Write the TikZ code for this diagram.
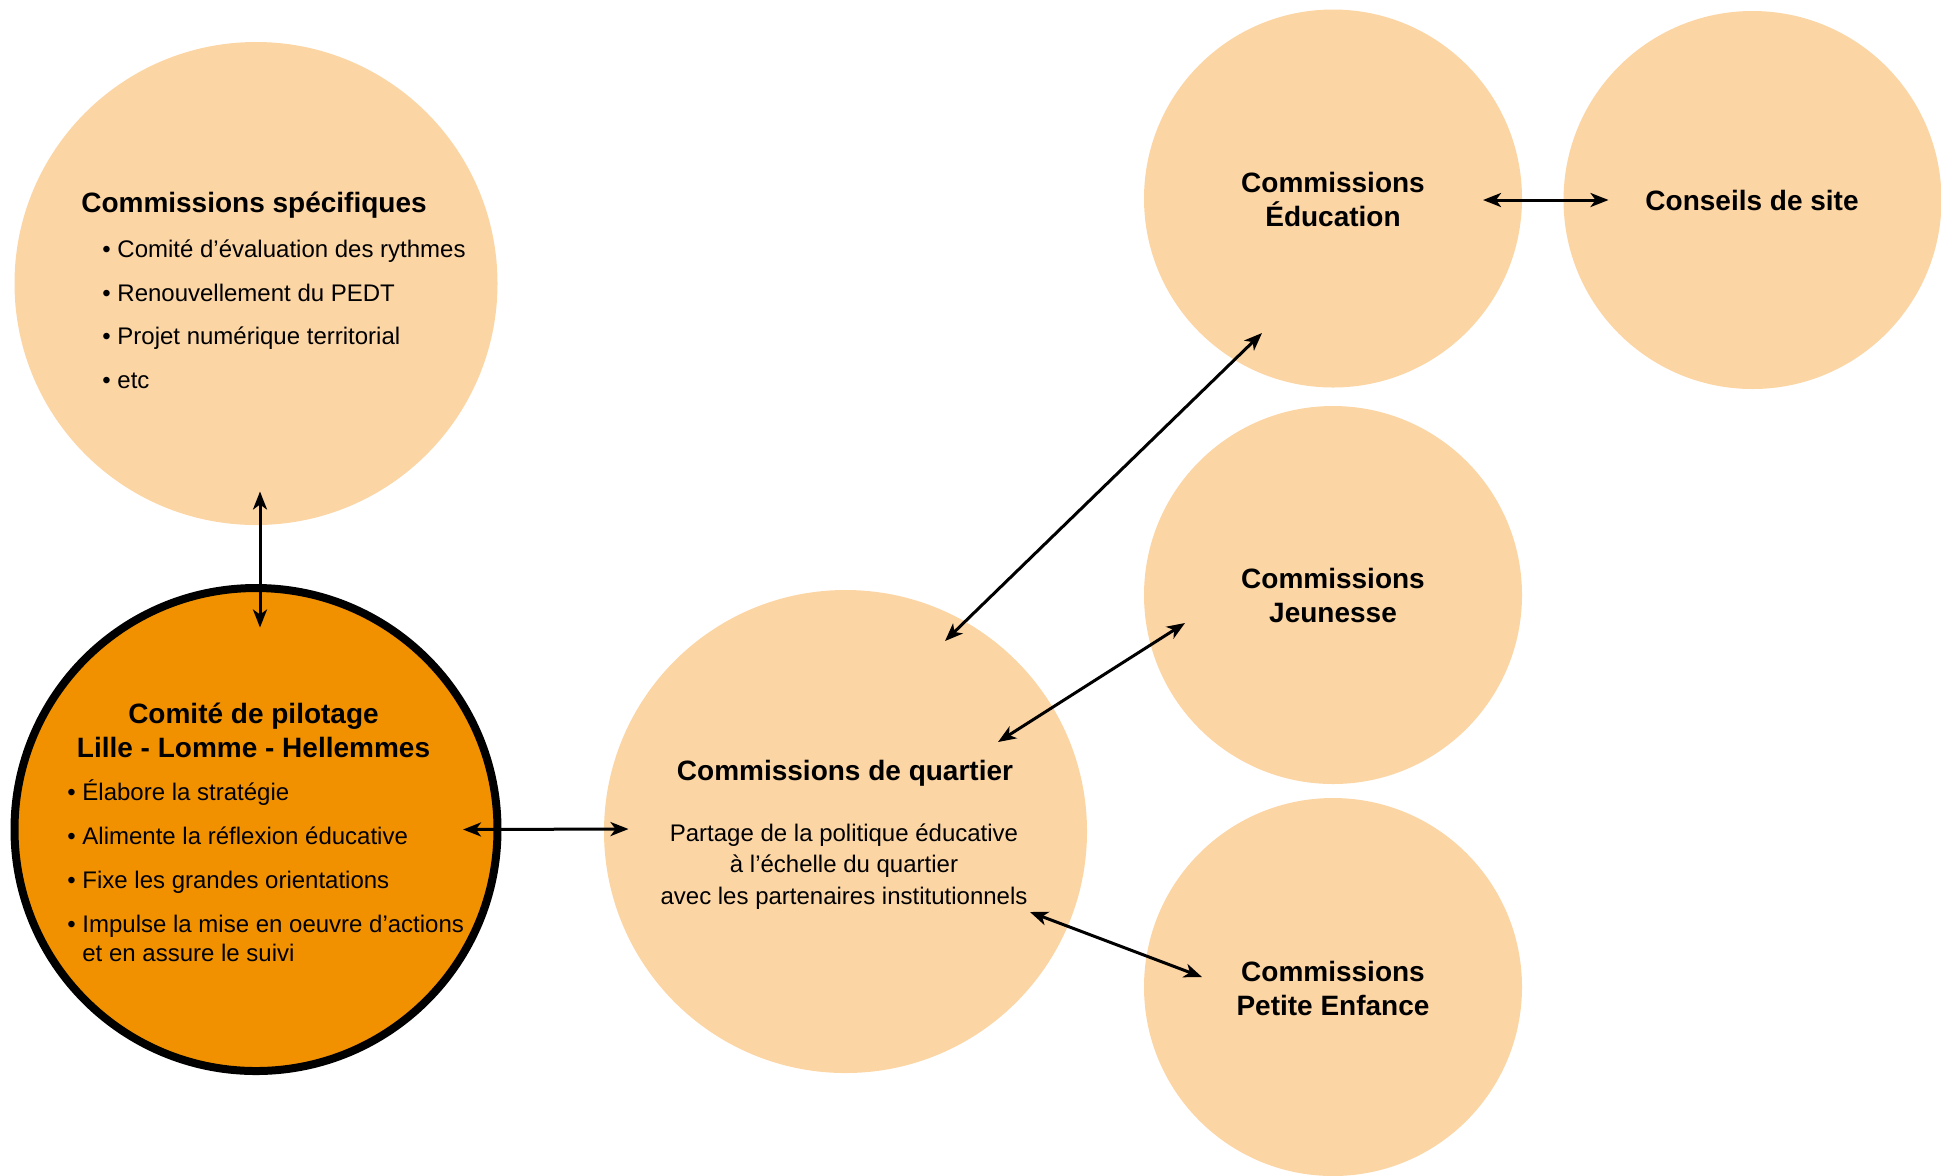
\documentclass[tikz,border=0pt]{standalone}
\usepackage{fontspec}
\setmainfont{Liberation Sans}
\usetikzlibrary{arrows.meta}

\definecolor{peche}{RGB}{252,213,165}
\definecolor{orangepilot}{RGB}{242,145,0}

\tikzset{
    bulle/.style={circle, fill=peche, inner sep=0pt, minimum size=#1},
    titre/.style={anchor=base, inner sep=0pt, font=\fontsize{14}{17}\selectfont\bfseries},
    texte/.style={anchor=base, inner sep=0pt, font=\fontsize{12}{15}\selectfont},
    puce/.style={anchor=base west, inner sep=0pt, font=\fontsize{12}{15}\selectfont},
    lien/.style={<->, line width=1.5pt}
}

\begin{document}
\begin{tikzpicture}[x=0.5pt, y=-0.5pt, >={Stealth[length=9pt, width=7pt, inset=2.5pt]}]
    \useasboundingbox (0,0) rectangle (1941,1175);

    % Draw the circles
    \node[bulle=241.5pt] (spec) at (256,283.5) {};
    \node[bulle=241.5pt, fill=orangepilot, draw=black, line width=4pt] (pilot) at (256,829.5) {};
    \node[bulle=241.5pt] (quartier) at (845.5,831.5) {};
    \node[bulle=189pt] (educ) at (1333,198.5) {};
    \node[bulle=189pt] (site) at (1752.5,200) {};
    \node[bulle=189pt] (jeun) at (1333,595) {};
    \node[bulle=189pt] (petite) at (1333,987) {};

    % Commissions specifiques
    \node[titre] (specT) at (254,212) {Commissions spécifiques};
    \node[puce] (spec1) at (102,257.5) {• Comité d’évaluation des rythmes};
    \node[puce] (spec2) at (102,301) {• Renouvellement du PEDT};
    \node[puce] (spec3) at (102,344.5) {• Projet numérique territorial};
    \node[puce] (spec4) at (102,388) {• etc};

    % Comite de pilotage
    \node[titre] (pilotT1) at (253.5,723) {Comité de pilotage};
    \node[titre] (pilotT2) at (253.5,757.5) {Lille - Lomme - Hellemmes};
    \node[puce] (pilot1) at (67,800) {• Élabore la stratégie};
    \node[puce] (pilot2) at (67,844) {• Alimente la réflexion éducative};
    \node[puce] (pilot3) at (67,888) {• Fixe les grandes orientations};
    \node[puce] (pilot4) at (67,932) {• Impulse la mise en oeuvre d’actions};
    \node[puce] (pilot5) at (82,961) {et en assure le suivi};

    % Commissions de quartier
    \node[titre] (quartierT) at (845,780) {Commissions de quartier};
    \node[texte] (quartier1) at (844,841) {Partage de la politique éducative};
    \node[texte] (quartier2) at (844,872.5) {à l’échelle du quartier};
    \node[texte] (quartier3) at (844,904) {avec les partenaires institutionnels};

    % Petites commissions
    \node[titre] (educT1) at (1333,192) {Commissions};
    \node[titre] (educT2) at (1333,226) {Éducation};
    \node[titre] (siteT) at (1752,210) {Conseils de site};
    \node[titre] (jeunT1) at (1333,588.5) {Commissions};
    \node[titre] (jeunT2) at (1333,622.5) {Jeunesse};
    \node[titre] (petiteT1) at (1333,981) {Commissions};
    \node[titre] (petiteT2) at (1333,1015) {Petite Enfance};

    % Draw the links
    \draw[lien] ([shift={(4,208)}]spec.center) -- ([shift={(4,-202)}]pilot.center);
    \draw[lien] ([shift={(207,0)}]pilot.center) -- ([shift={(-217,-2.5)}]quartier.center);
    \draw[lien] ([shift={(99.5,-190.5)}]quartier.center) -- ([shift={(-71,134.5)}]educ.center);
    \draw[lien] ([shift={(152.5,-89.5)}]quartier.center) -- ([shift={(-148,28)}]jeun.center);
    \draw[lien] ([shift={(184.5,80.5)}]quartier.center) -- ([shift={(-131,-10)}]petite.center);
    \draw[lien] ([shift={(150,1.5)}]educ.center) -- ([shift={(-144,0)}]site.center);
\end{tikzpicture}
\end{document}
